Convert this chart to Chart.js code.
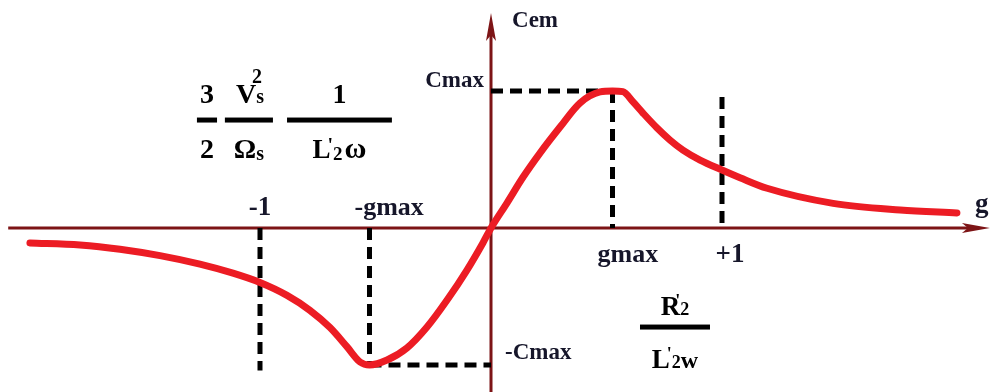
<!DOCTYPE html>
<html>
<head>
<meta charset="utf-8">
<script src="https://cdn.jsdelivr.net/npm/chart.js@4.4.1/dist/chart.umd.min.js"></script>
<style>
    html, body { margin: 0; padding: 0; background: #fff; }
    #wrap { width: 994px; height: 392px; }
</style>
</head>
<body>
<div id="wrap"><canvas id="torqueChart" width="994" height="392"></canvas></div>
<script>
// torque / slip characteristic, Cem in units of Cmax, slip g per unit
const gMax = 0.526;
const slip = [-1.996, -1.779, -1.606, -1.433, -1.260, -1.117, -1.0, -0.883, -0.784,
    -0.697, -0.623, -0.567, -0.526,
    -0.450, -0.364, -0.277, -0.190, -0.104, -0.035, 0,
    0.069, 0.139, 0.212, 0.299, 0.385, 0.472, 0.526, 0.571,
    0.615, 0.658, 0.719, 0.775, 0.831, 0.905, 1.0, 1.078,
    1.195, 1.481, 1.771, 2.017];
const torque = [-0.109, -0.124, -0.155, -0.202, -0.264, -0.330, -0.398, -0.492, -0.601,
    -0.727, -0.868, -0.978, -1.0,
    -0.964, -0.876, -0.723, -0.526, -0.307, -0.109, 0,
    0.182, 0.372, 0.547, 0.737, 0.912, 0.993, 1.0, 0.995,
    0.920, 0.839, 0.730, 0.642, 0.569, 0.496, 0.423, 0.367,
    0.290, 0.180, 0.132, 0.110];

// dashed guides: [g start, g end] and [Cem start, Cem end]
const guideG = [[0, gMax], [gMax, gMax], [1, 1], [-1, -1], [-gMax, -gMax], [-gMax, 0]];
const guideC = [[1, 1], [1, 0], [0.956, 0], [0, -1.04], [0, -1], [-1, -1]];

const xTickValues = [-1, -gMax, gMax, 1];
const xTickLabels = ['-1', '-gmax', 'gmax', '+1'];
const yTickValues = [1, -1];
const yTickLabels = ['Cmax', '-Cmax'];

const AXIS = '#7d1416';
const INK = '#16162a';
const SERIF = '"Liberation Serif", "DejaVu Serif", serif';

function font(size) { return 'bold ' + size + 'px ' + SERIF; }

// draws a run of text pieces (for subscripts / primes)
function drawRuns(ctx, x, y, parts, align) {
    let w = 0;
    parts.forEach(p => { ctx.font = font(p.s); w += ctx.measureText(p.t).width + (p.dx || 0); });
    let cx = align === 'center' ? x - w / 2 : align === 'right' ? x - w : x;
    ctx.textAlign = 'left';
    ctx.textBaseline = 'alphabetic';
    parts.forEach(p => {
        ctx.font = font(p.s);
        cx += (p.dx || 0);
        ctx.fillText(p.t, cx, y + (p.dy || 0));
        cx += ctx.measureText(p.t).width;
    });
}

function drawFraction(ctx, xs, ys, g0, g1, c, num, den, numGap, denGap) {
    const a = xs.getPixelForValue(g0), b = xs.getPixelForValue(g1);
    const ly = ys.getPixelForValue(c);
    ctx.fillRect(a, ly - 2.5, b - a, 5);
    drawRuns(ctx, (a + b) / 2, ly - numGap, num, 'center');
    drawRuns(ctx, (a + b) / 2, ly + denGap, den, 'center');
}

const axesAndLabels = {
    id: 'axesAndLabels',
    beforeDatasetsDraw(chart) {
        const { ctx, scales: { x, y } } = chart;
        const x0 = x.getPixelForValue(0), y0 = y.getPixelForValue(0);
        const left = x.getPixelForValue(-2.09), right = x.getPixelForValue(2.16);
        const top = y.getPixelForValue(1.57), bottom = y.getPixelForValue(-1.2);
        ctx.save();
        ctx.strokeStyle = AXIS;
        ctx.fillStyle = AXIS;
        ctx.lineWidth = 3;
        ctx.beginPath();
        ctx.moveTo(left, y0); ctx.lineTo(right - 20, y0);
        ctx.moveTo(x0, bottom); ctx.lineTo(x0, top + 20);
        ctx.stroke();
        // arrow heads
        ctx.beginPath();
        ctx.moveTo(right, y0); ctx.lineTo(right - 28, y0 - 5); ctx.lineTo(right - 22, y0); ctx.lineTo(right - 28, y0 + 5);
        ctx.closePath(); ctx.fill();
        ctx.beginPath();
        ctx.moveTo(x0, top); ctx.lineTo(x0 - 5, top + 28); ctx.lineTo(x0, top + 22); ctx.lineTo(x0 + 5, top + 28);
        ctx.closePath(); ctx.fill();
        ctx.restore();
    },
    afterDatasetsDraw(chart) {
        const { ctx, scales: { x, y } } = chart;
        const x0 = x.getPixelForValue(0), y0 = y.getPixelForValue(0);
        ctx.save();
        ctx.fillStyle = INK;

        // axis titles
        drawRuns(ctx, x.getPixelForValue(0.091), y.getPixelForValue(1.467), [{ t: 'Cem', s: 23 }], 'left');
        drawRuns(ctx, x.getPixelForValue(2.095), y.getPixelForValue(0.117), [{ t: 'g', s: 27 }], 'left');

        // slip ticks
        xTickValues.forEach((v, i) => {
            const px = x.getPixelForValue(v);
            const t = xTickLabels[i];
            const base = v < 0 ? y0 - 13 : y0 + 34;
            if (t.indexOf('g') >= 0) drawRuns(ctx, px - 15, base, [{ t: t, s: 26 }], 'left');
            else drawRuns(ctx, px + (v > 0 ? 8 : 0), base, [{ t: t, s: 27 }], 'center');
        });

        // torque ticks
        drawRuns(ctx, x0 - 7, y.getPixelForValue(yTickValues[0]) - 4, [{ t: yTickLabels[0], s: 23 }], 'right');
        drawRuns(ctx, x0 + 14, y.getPixelForValue(yTickValues[1]) - 6, [{ t: yTickLabels[1], s: 23 }], 'left');

        // coefficient 3/2 . Vs^2/Omega_s . 1/(L'2 w)
        ctx.fillStyle = '#000';
        drawFraction(ctx, x, y, -1.273, -1.186, 0.788,
            [{ t: '3', s: 28 }], [{ t: '2', s: 28 }], 17, 38);
        drawFraction(ctx, x, y, -1.152, -0.944, 0.788,
            [{ t: 'V', s: 28 }, { t: 's', s: 20 }, { t: '2', s: 20, dx: -12, dy: -20 }],
            [{ t: '\u03A9', s: 28 }, { t: 's', s: 20, dy: 2 }], 17, 38);
        drawFraction(ctx, x, y, -0.883, -0.429, 0.788,
            [{ t: '1', s: 28 }],
            [{ t: 'L', s: 27 }, { t: "'", s: 20, dx: -3, dy: -6 }, { t: '2', s: 19, dy: 2 }, { t: '\u03C9', s: 30, dx: 2 }], 17, 38);

        // R'2 / L'2 w
        drawFraction(ctx, x, y, 0.645, 0.948, -0.723,
            [{ t: 'R', s: 27 }, { t: "'", s: 18, dx: -5, dy: -8 }, { t: '2', s: 18 }],
            [{ t: 'L', s: 27 }, { t: "'", s: 18, dx: -3, dy: -8 }, { t: '2', s: 18 }, { t: 'w', s: 24 }], 12, 41);

        ctx.restore();
    }
};

const guideSets = guideG.map((g, i) => ({
    data: [{ x: g[0], y: guideC[i][0] }, { x: g[1], y: guideC[i][1] }],
    borderColor: '#000',
    borderWidth: 5,
    borderDash: [12, 7],
    pointRadius: 0,
    order: 2
}));

new Chart(document.getElementById('torqueChart'), {
    type: 'line',
    data: {
        datasets: [{
            data: slip.map((g, i) => ({ x: g, y: torque[i] })),
            borderColor: '#ec1c24',
            borderWidth: 7,
            cubicInterpolationMode: 'monotone',
            borderCapStyle: 'round',
            borderJoinStyle: 'round',
            pointRadius: 0,
            order: 1
        }].concat(guideSets)
    },
    options: {
        responsive: false,
        animation: false,
        events: [],
        layout: { padding: 0 },
        plugins: { legend: { display: false }, tooltip: { enabled: false } },
        datasets: { line: { clip: false } },
        scales: {
            x: { type: 'linear', display: false, min: -491 / 231, max: (994 - 491) / 231 },
            y: { type: 'linear', display: false, min: -(392 - 228) / 137, max: 228 / 137 }
        }
    },
    plugins: [axesAndLabels]
});
</script>
</body>
</html>
